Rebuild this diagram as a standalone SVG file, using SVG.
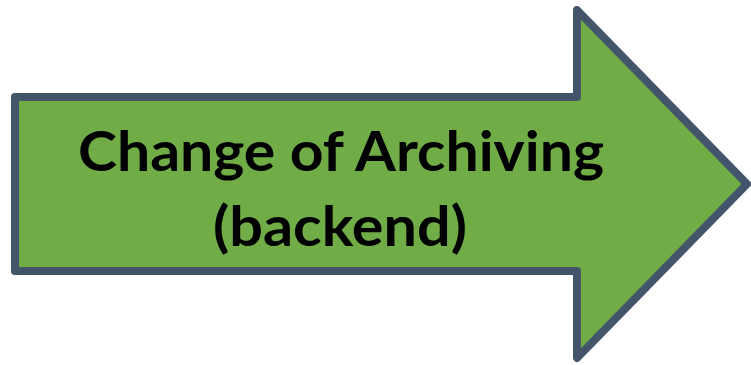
<svg xmlns="http://www.w3.org/2000/svg" width="751" height="365" viewBox="0 0 751 365">
  <style>
    .arrow { fill: #70AD47; stroke: #44546A; stroke-width: 8; stroke-linejoin: round; }
    .label { font-family: Lato, "Open Sans", "Liberation Sans", sans-serif; font-weight: bold; font-size: 56px; fill: #000000; }
  </style>
  <rect width="751" height="365" fill="#FFFFFF"/>
  <g id="arrow-node">
    <path class="arrow" d="M15,97 H577 V10 L747,184 L577,358 V271 H15 Z"/>
    <text class="label" x="78" y="171" textLength="526" lengthAdjust="spacingAndGlyphs">Change of Archiving</text>
    <text class="label" x="213" y="246" textLength="254" lengthAdjust="spacingAndGlyphs">(backend)</text>
  </g>
</svg>
